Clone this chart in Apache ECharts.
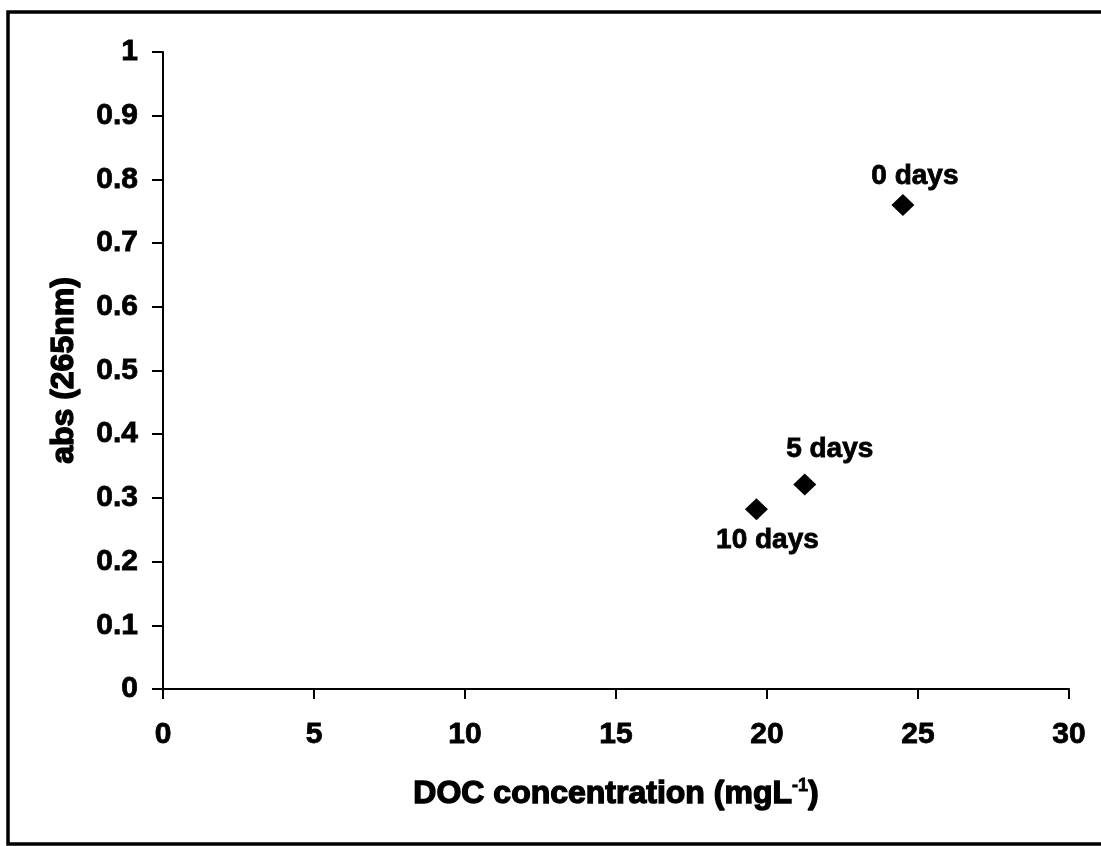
<!DOCTYPE html>
<html>
<head>
<meta charset="utf-8">
<script src="https://cdn.jsdelivr.net/npm/echarts@6/dist/echarts.min.js"></script>
<style>
  html, body { margin: 0; padding: 0; background: #ffffff; }
  #chart { width: 1101px; height: 846px; }
</style>
</head>
<body>
<div id="chart"></div>
<script>
// DOC concentration (mg/L) and absorbance at 265 nm over the incubation
const docValues = [24.5, 21.25, 19.65];
const absValues = [0.76, 0.321, 0.282];
const pointLabels = ['0 days', '5 days', '10 days'];
// label placement per point: [position, offsetX, offsetY]
const labelPlacement = [['top', 12, 0], ['top', 25, -6], ['bottom', 11, 2]];

const xTicks = { min: 0, max: 30, interval: 5 };
const yTicks = { min: 0, max: 1, interval: 0.1 };

const FONT = '"Liberation Sans", Arial, sans-serif';
// heavy black text: bold face plus a thin outline in the same colour
const heavy = (size, stroke) => ({
  color: '#000', fontFamily: FONT, fontWeight: 'bold', fontSize: size,
  textBorderColor: '#000', textBorderWidth: stroke
});

const points = docValues.map((x, i) => ({
  value: [x, absValues[i]],
  label: Object.assign({
    show: true,
    formatter: pointLabels[i],
    position: labelPlacement[i][0],
    offset: [labelPlacement[i][1], labelPlacement[i][2]],
    distance: 4,
    opacity: 1,
    lineHeight: 28
  }, heavy(28, 0.8))
}));

const chart = echarts.init(document.getElementById('chart'), null, { renderer: 'canvas' });

chart.setOption({
  backgroundColor: '#ffffff',
  animation: false,
  grid: { left: 163, right: 32, top: 52, bottom: 157 },
  graphic: [{
    type: 'rect',
    shape: { x: 8, y: 12, width: 1110, height: 832 },
    style: { fill: 'none', stroke: '#000', lineWidth: 3.5 },
    silent: true
  }],
  xAxis: {
    type: 'value',
    min: xTicks.min, max: xTicks.max, interval: xTicks.interval,
    name: 'DOC concentration (mgL{sup|-1})',
    nameLocation: 'middle',
    nameGap: 88,
    nameTextStyle: Object.assign(heavy(32, 1.4), {
      rich: {
        sup: Object.assign(heavy(18, 0.8), { verticalAlign: 'top', padding: [0, 0, 16, 0] })
      }
    }),
    axisLine: { show: true, onZero: false, lineStyle: { color: '#000', width: 2 } },
    axisTick: { show: true, inside: false, length: 10, lineStyle: { color: '#000', width: 2 } },
    axisLabel: Object.assign(heavy(30, 0.8), { margin: 31 }),
    splitLine: { show: false }
  },
  yAxis: {
    type: 'value',
    min: yTicks.min, max: yTicks.max, interval: yTicks.interval,
    name: 'abs (265nm)',
    nameLocation: 'middle',
    nameGap: 83,
    nameRotate: 90,
    nameTextStyle: heavy(32, 1.4),
    axisLine: { show: true, onZero: false, lineStyle: { color: '#000', width: 2 } },
    axisTick: { show: true, inside: false, length: 11, lineStyle: { color: '#000', width: 2 } },
    axisLabel: Object.assign(heavy(30, 0.8), { margin: 25 }),
    splitLine: { show: false }
  },
  series: [{
    type: 'scatter',
    symbol: 'diamond',
    symbolSize: [23, 22],
    itemStyle: { color: '#000', opacity: 1 },
    data: points
  }]
});
</script>
</body>
</html>
